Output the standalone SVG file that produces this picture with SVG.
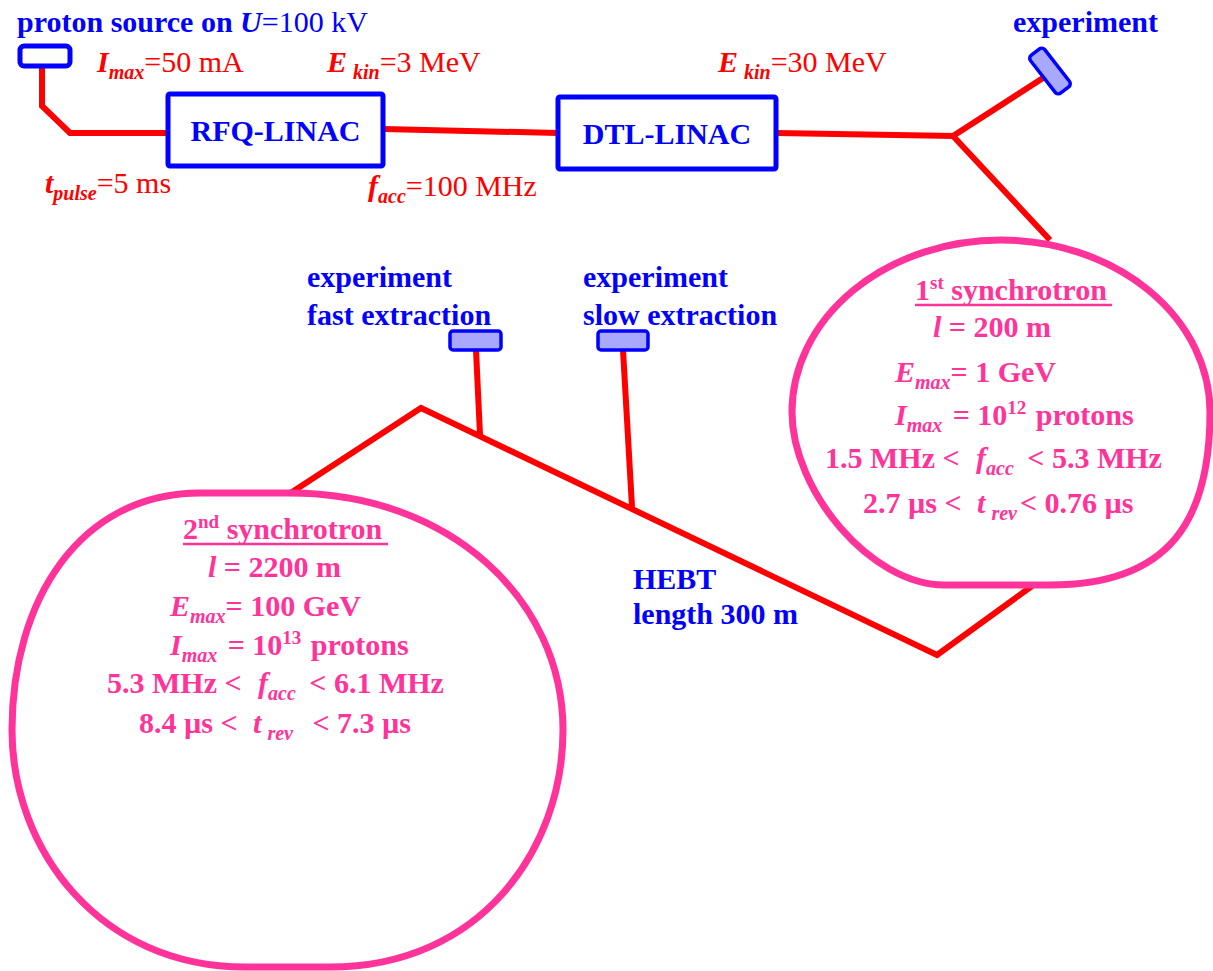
<svg xmlns="http://www.w3.org/2000/svg" width="1213" height="971" viewBox="0 0 1213 971">
<style>
text { font-family: "Liberation Serif", "Times New Roman", serif; font-size: 30px; }
.red { fill: #ff0000; }
.blue { fill: #0000ff; font-weight: bold; }
.pink { fill: #ff3399; font-weight: bold; }
.bi { font-weight: bold; font-style: italic; }
.sub { font-size: 20px; }
.sup { font-size: 19px; }
.conn { stroke: #ff0000; stroke-width: 6; fill: none; stroke-linejoin: miter; }
.box { fill: #ffffff; stroke: #0000ff; stroke-width: 5; }
.exp { fill: #a8a8ff; stroke: #0000ff; stroke-width: 3.5; }
.ring { fill: none; stroke: #ff3399; stroke-width: 7; }
.ul { stroke: #ff3399; stroke-width: 2.5; }
</style>

<g id="connectors">
  <polyline class="conn" points="42,67 42,106 70,133 168,133"/>
  <line class="conn" x1="383" y1="129" x2="558" y2="133"/>
  <line class="conn" x1="776" y1="133" x2="955" y2="136"/>
  <line class="conn" x1="953" y1="136" x2="1043" y2="78"/>
  <line class="conn" x1="953" y1="136" x2="1050" y2="240"/>
  <polyline class="conn" points="289,494 421,408 937,655 1032,586"/>
  <line class="conn" x1="476" y1="350" x2="480" y2="435"/>
  <line class="conn" x1="623" y1="350" x2="632" y2="507"/>
</g>

<g id="proton-source">
  <rect class="box" x="20" y="46" width="50" height="20" rx="4" stroke-width="4.5"/>
  <text class="blue" x="17" y="32" font-size="30.5">proton source on <tspan class="bi">U</tspan><tspan font-weight="normal">=100 kV</tspan></text>
</g>

<g id="rfq-linac">
  <rect class="box" x="168" y="94" width="215" height="72" rx="2"/>
  <text class="blue" x="275.5" y="141" text-anchor="middle">RFQ-LINAC</text>
</g>

<g id="dtl-linac">
  <rect class="box" x="558" y="97" width="218" height="72" rx="2"/>
  <text class="blue" x="667" y="144" text-anchor="middle">DTL-LINAC</text>
</g>

<g id="experiment-top">
  <rect class="exp" x="-24" y="-9" width="48" height="18" rx="4" transform="translate(1050,71) rotate(52)"/>
  <text class="blue" x="1013" y="32" font-size="30.5">experiment</text>
</g>

<g id="experiment-fast">
  <rect class="exp" x="450" y="331" width="51" height="19" rx="3"/>
  <text class="blue" x="307" y="287">experiment</text>
  <text class="blue" x="307" y="325">fast extraction</text>
</g>

<g id="experiment-slow">
  <rect class="exp" x="598" y="331" width="50" height="19" rx="3"/>
  <text class="blue" x="583" y="287">experiment</text>
  <text class="blue" x="583" y="325">slow extraction</text>
</g>

<g id="hebt">
  <text class="blue" x="633" y="589">HEBT</text>
  <text class="blue" x="633" y="624">length 300 m</text>
</g>

<g id="linac-labels">
  <text class="red" x="97" y="72"><tspan class="bi">I</tspan><tspan class="bi sub" dy="7">max</tspan><tspan dy="-7">=50 mA</tspan></text>
  <text class="red" x="327" y="72"><tspan class="bi">E</tspan><tspan class="bi sub" dx="6" dy="7">kin</tspan><tspan dy="-7">=3 MeV</tspan></text>
  <text class="red" x="718" y="72"><tspan class="bi">E</tspan><tspan class="bi sub" dx="6" dy="7">kin</tspan><tspan dy="-7">=30 MeV</tspan></text>
  <text class="red" x="45" y="193"><tspan class="bi">t</tspan><tspan class="bi sub" dy="7">pulse</tspan><tspan dy="-7">=5 ms</tspan></text>
  <text class="red" x="368" y="196"><tspan class="bi">f</tspan><tspan class="bi sub" dy="7">acc</tspan><tspan dy="-7">=100 MHz</tspan></text>
</g>

<g id="synchrotron-1">
  <path class="ring" d="M 792,412 A 209 172 0 0 1 1210,412 C 1210,520 1170,585 1050,585 L 945,585 C 870,585 792,490 792,412 Z"/>
  <text class="pink" x="915" y="300">1<tspan class="sup" dy="-11">st</tspan><tspan dy="11"> synchrotron</tspan></text>
  <line class="ul" x1="915" y1="305" x2="1112" y2="305"/>
  <text class="pink" x="933" y="337"><tspan class="bi">l</tspan> = 200 m</text>
  <text class="pink" x="895" y="382"><tspan class="bi">E</tspan><tspan class="bi sub" dy="7">max</tspan><tspan dy="-7">= 1 GeV</tspan></text>
  <text class="pink" x="895" y="425"><tspan class="bi">I</tspan><tspan class="bi sub" dy="7">max</tspan><tspan dy="-7" dx="3"> = 10</tspan><tspan class="sup" dy="-11">12</tspan><tspan dy="11" dx="2"> protons</tspan></text>
  <text class="pink" x="825" y="468">1.5 MHz &lt; <tspan class="bi" dx="9">f</tspan><tspan class="bi sub" dy="7">acc</tspan><tspan dy="-7" dx="6"> &lt; 5.3 MHz</tspan></text>
  <text class="pink" x="863" y="513">2.7 µs &lt; <tspan class="bi" dx="8">t</tspan><tspan class="bi sub" dx="6" dy="7">rev</tspan><tspan dy="-7" dx="3">&lt; 0.76 µs</tspan></text>
</g>

<g id="synchrotron-2">
  <path class="ring" d="M 12,730 C 12,600 80,493 200,493 L 290,493 C 450,493 563,600 563,730 C 563,850 480,967 330,967 L 245,967 C 100,967 12,850 12,730 Z"/>
  <text class="pink" x="183" y="539">2<tspan class="sup" dy="-11">nd</tspan><tspan dy="11"> synchrotron</tspan></text>
  <line class="ul" x1="183" y1="544" x2="388" y2="544"/>
  <text class="pink" x="208" y="577"><tspan class="bi">l</tspan> = 2200 m</text>
  <text class="pink" x="170" y="616"><tspan class="bi">E</tspan><tspan class="bi sub" dy="7">max</tspan><tspan dy="-7">= 100 GeV</tspan></text>
  <text class="pink" x="170" y="655"><tspan class="bi">I</tspan><tspan class="bi sub" dy="7">max</tspan><tspan dy="-7" dx="3"> = 10</tspan><tspan class="sup" dy="-11">13</tspan><tspan dy="11" dx="2"> protons</tspan></text>
  <text class="pink" x="107" y="693">5.3 MHz &lt; <tspan class="bi" dx="9">f</tspan><tspan class="bi sub" dy="7">acc</tspan><tspan dy="-7" dx="6"> &lt; 6.1 MHz</tspan></text>
  <text class="pink" x="139" y="733">8.4 µs &lt; <tspan class="bi" dx="8">t</tspan><tspan class="bi sub" dx="6" dy="7">rev</tspan><tspan dy="-7" dx="12"> &lt; 7.3 µs</tspan></text>
</g>
</svg>
